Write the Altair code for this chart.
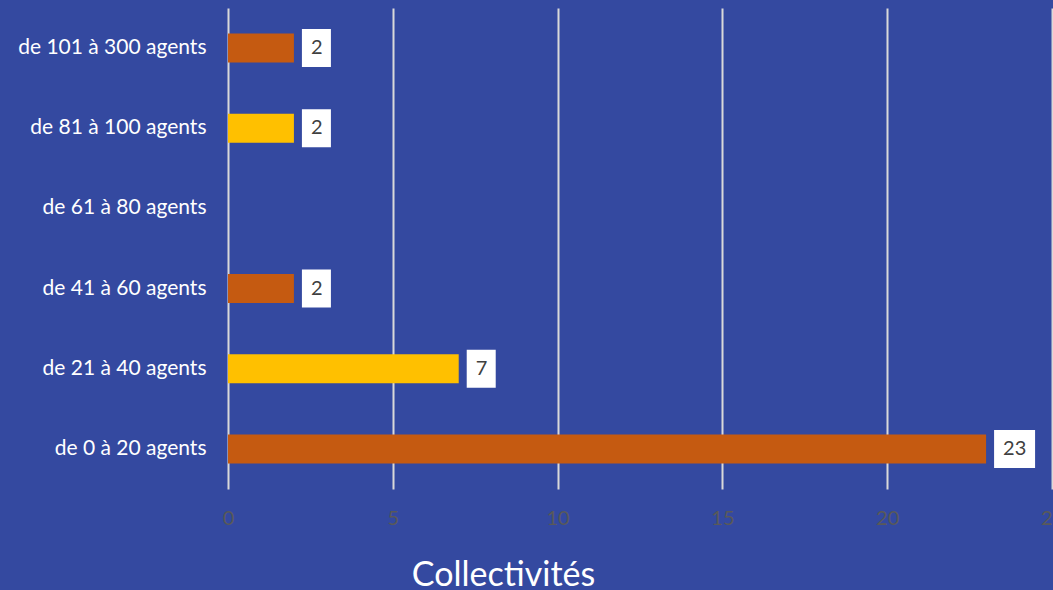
import altair as alt
import pandas as pd

categories = ["de 101 à 300 agents", "de 81 à 100 agents", "de 61 à 80 agents",
              "de 41 à 60 agents", "de 21 à 40 agents", "de 0 à 20 agents"]
values = [2, 2, None, 2, 7, 23]
colors = ["#C55A11", "#FFC000", "#FFC000", "#C55A11", "#FFC000", "#C55A11"]
x_ticks = [0, 5, 10, 15, 20, 25]

df = pd.DataFrame({"cat": categories, "v": values, "col": colors})

FONT = "Lato"
BG = "#3449A0"

y_scale = alt.Scale(domain=categories, paddingInner=0.64, paddingOuter=0.32)
y_enc = alt.Y("cat:N", title=None, scale=y_scale,
              axis=alt.Axis(domain=False, ticks=False, labelColor="#FFFFFF",
                            labelFont=FONT, labelFontSize=21, labelPadding=22,
                            labelLimit=0, grid=False))
x_enc = alt.X("v:Q", scale=alt.Scale(domain=[0, 25], nice=False),
              title="Collectivités",
              axis=alt.Axis(values=x_ticks, domain=False, ticks=False,
                            labelColor="#595959", labelFont=FONT, labelFontSize=20,
                            labelPadding=19, labelFlush=False, labelOverlap=False,
                            grid=True, gridColor="#D9D9D9",
                            gridWidth=2, titleColor="#FFFFFF", titleFont=FONT,
                            titleFontSize=34, titleFontWeight="normal",
                            titleX=275, titleY=96, titleAlign="center",
                            titleBaseline="alphabetic"))

base = alt.Chart(df).transform_filter("isValid(datum.v)")
y_plain = alt.Y("cat:N", scale=y_scale)

bars = base.mark_bar(size=29).encode(
    x=x_enc, y=y_enc, color=alt.Color("col:N", scale=None))

box1 = base.transform_filter("datum.v < 10").mark_bar(
    size=38, color="#FFFFFF", xOffset=8, x2Offset=37).encode(
    x="v:Q", x2="v:Q", y=y_plain)
box2 = base.transform_filter("datum.v >= 10").mark_bar(
    size=38, color="#FFFFFF", xOffset=8, x2Offset=49).encode(
    x="v:Q", x2="v:Q", y=y_plain)

labels = base.mark_text(align="left", dx=17, font=FONT, fontSize=20,
                        color="#404040", baseline="middle").encode(
    x="v:Q", y=y_plain, text="v:Q")

chart = alt.layer(bars, box1, box2, labels).properties(
    width=824, height=481, background=BG,
    autosize=alt.AutoSizeParams(type="none"),
    padding={"left": 228, "top": 8, "right": 1, "bottom": 101},
).configure_view(stroke=None)

chart.save("out.html", embed_options={"renderer": "svg", "actions": False})
